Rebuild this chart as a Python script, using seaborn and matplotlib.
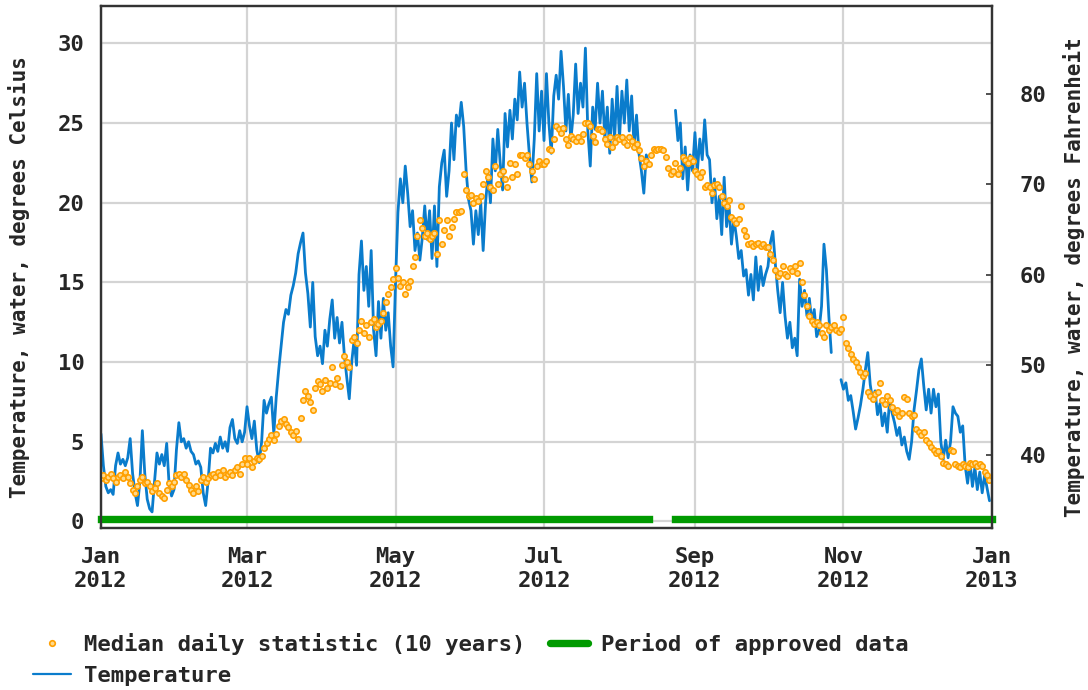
import matplotlib
matplotlib.use("Agg")
import matplotlib.pyplot as plt
from matplotlib.lines import Line2D
import numpy as np
import pandas as pd
import seaborn as sns

nan = np.nan

# Daily water temperature (deg C), one list per month
temp_jan = [5.5, 3.5, 2.2, 1.8, 2.0, 1.7, 3.5, 4.3, 3.6, 3.9, 3.5, 4.0, 5.2, 3.0, 1.8, 1.0,
            2.5, 5.7, 3.0, 1.4, 0.8, 0.6, 2.5, 4.3, 3.6, 4.2, 3.5, 4.9, 2.3, 1.6, 2.0]
temp_feb = [4.5, 6.2, 5.0, 5.2, 4.6, 5.0, 4.4, 4.2, 3.6, 3.8, 3.4, 1.8, 1.0, 2.5, 4.6,
            4.3, 4.9, 4.4, 5.3, 4.6, 5.0, 4.4, 5.9, 6.4, 5.2, 4.9, 5.7, 5.0, 5.6]
temp_mar = [7.2, 6.0, 5.2, 6.3, 4.5, 3.7, 5.0, 7.6, 6.8, 7.4, 7.8, 5.5, 7.8, 9.5, 11.0, 12.5,
            13.3, 13.0, 14.2, 14.8, 15.6, 16.8, 17.5, 18.1, 15.6, 14.3, 12.2, 15.0, 11.6, 10.4, 11.0]
temp_apr = [9.9, 12.0, 11.0, 12.7, 13.9, 11.5, 12.8, 11.2, 12.5, 10.4, 9.0, 7.7, 10.0, 11.4, 9.8,
            15.5, 17.6, 14.5, 16.0, 13.5, 17.0, 12.0, 10.4, 13.8, 11.5, 14.0, 12.0, 13.1, 11.0, 9.7]
temp_may = [15.0, 19.4, 21.5, 20.0, 22.3, 20.6, 18.5, 19.5, 17.0, 18.1, 16.4, 17.8, 19.8, 17.7, 19.5,
            16.5, 19.8, 16.0, 21.0, 22.5, 23.3, 20.4, 22.0, 25.0, 22.7, 25.5, 24.8, 26.3, 24.8, 22.0, 20.2]
temp_jun = [19.5, 17.4, 19.5, 18.0, 20.0, 17.0, 20.0, 21.8, 20.0, 24.0, 22.0, 24.6, 22.5, 20.8, 25.6,
            23.5, 25.8, 24.0, 26.5, 25.2, 28.2, 26.0, 27.5, 25.0, 23.0, 21.3, 24.0, 28.1, 24.5, 27.0]
temp_jul = [23.9, 28.1, 25.0, 23.1, 26.7, 28.0, 26.5, 29.5, 27.3, 24.5, 26.8, 23.9, 25.5, 28.7, 25.6,
            27.5, 26.0, 29.7, 24.5, 22.3, 26.0, 24.6, 27.5, 25.0, 27.0, 24.0, 26.0, 23.1, 26.5, 24.0, 27.3]
temp_aug = [24.0, 27.0, 25.0, 27.7, 24.5, 26.7, 23.5, 25.5, 23.1, 22.0, 20.6, 23.0, 22.5,
            nan, nan, nan, nan, nan, nan, nan, nan, nan, nan,
            25.8, 23.9, 25.0, 21.5, 23.5, 20.8, 23.0, 22.0]
temp_sep = [24.4, 22.0, 24.0, 22.7, 25.2, 23.0, 22.7, 20.0, 21.5, 19.0, 20.4, 18.0, 21.6, 18.5, 19.8,
            17.4, 19.0, 17.9, 16.5, 17.0, 15.4, 15.8, 14.2, 15.5, 13.9, 16.6, 14.5, 16.0, 14.8, 15.5]
temp_oct = [16.0, 17.5, 18.2, 16.2, 14.5, 13.1, 15.0, 12.9, 11.5, 12.5, 10.9, 11.5, 10.4, 15.2, 13.5,
            14.5, 12.9, 14.0, 12.5, 13.3, 11.6, 12.0, 13.5, 17.4, 15.8, 12.9, 10.6, nan, nan, nan, 8.9]
temp_nov = [8.3, 8.7, 7.6, 7.9, 6.9, 5.8, 6.5, 7.3, 8.3, 9.5, 10.6, 8.6, 7.6, 8.2, 6.7,
            7.4, 6.0, 6.8, 5.6, 7.7, 6.8, 6.2, 5.4, 5.9, 4.8, 5.3, 4.4, 3.9, 5.0, 7.0]
temp_dec = [8.2, 9.5, 10.2, 8.5, 7.0, 8.3, 6.8, 8.3, 7.2, 8.0, 5.0, 3.9, 5.1, 4.0, 5.0, 7.2,
            6.8, 6.6, 5.6, 6.0, 3.5, 2.4, 3.7, 2.2, 3.4, 2.0, 3.1, 1.8, 2.9, 2.1, 1.3]

# Median daily statistic (10 years), deg C
med_jan = [2.7, 2.9, 2.6, 2.8, 3.0, 2.7, 2.5, 2.8, 2.9, 2.7, 3.1, 2.8, 2.4, 2.0, 1.8, 2.2,
           2.6, 2.8, 2.4, 2.5, 2.2, 1.9, 2.1, 2.4, 1.8, 1.6, 1.5, 2.0, 2.4, 2.2, 2.5]
med_feb = [2.9, 3.0, 2.8, 3.0, 2.6, 2.3, 2.0, 1.8, 2.2, 1.9, 2.6, 2.8, 2.5, 2.7, 2.9,
           3.0, 2.8, 3.1, 2.9, 3.2, 2.8, 3.0, 3.1, 2.9, 3.2, 3.4, 3.0, 3.6, 4.0]
med_mar = [3.6, 4.0, 3.4, 3.8, 4.0, 3.9, 4.1, 4.6, 4.9, 5.2, 5.4, 5.1, 5.5, 6.0, 6.3, 6.4,
           6.1, 5.9, 5.6, 5.4, 5.7, 5.2, 6.5, 7.6, 8.2, 7.9, 7.5, 7.0, 8.4, 8.8, 8.6]
med_apr = [8.2, 8.9, 8.4, 8.7, 9.7, 8.6, 9.0, 8.5, 9.8, 10.4, 10.0, 9.7, 11.4, 11.6, 11.2,
           12.0, 12.6, 11.8, 12.3, 11.6, 12.5, 12.7, 12.2, 12.4, 12.6, 13.1, 13.8, 14.3, 14.7, 15.2]
med_may = [15.9, 15.3, 14.8, 15.0, 14.3, 14.7, 15.1, 16.0, 16.6, 17.9, 18.9, 18.4, 17.9, 18.1, 17.7,
           17.9, 18.1, 16.8, 18.9, 17.4, 18.3, 18.9, 17.9, 18.5, 19.0, 19.4, 19.4, 19.5, 21.8, 20.8, 20.4]
med_jun = [20.5, 20.0, 20.3, 20.1, 20.4, 21.2, 22.0, 21.6, 21.0, 20.8, 22.3, 21.2, 21.8, 22.0, 21.5,
           21.0, 22.5, 21.6, 22.4, 21.8, 23.0, 23.0, 22.8, 23.0, 22.4, 22.0, 21.5, 22.3, 22.6, 22.4]
med_jul = [22.4, 22.6, 23.4, 23.3, 24.0, 24.8, 24.6, 24.4, 24.7, 24.0, 23.6, 24.2, 24.0, 23.9, 24.1,
           23.9, 24.3, 25.0, 25.0, 24.8, 24.2, 23.8, 24.6, 24.6, 24.5, 24.0, 23.7, 24.1, 23.5, 23.8, 24.1]
med_aug = [24.0, 24.1, 23.8, 23.6, 24.1, 23.9, 23.5, 23.7, 23.3, 22.8, 22.3, 22.6, 22.4, 23.0, 23.4,
           23.3, 23.4, 23.4, 23.3, 22.9, 22.2, 21.8, 22.0, 22.5, 21.8, 22.2, 22.9, 22.7, 22.5, 22.8, 22.6]
med_sep = [22.0, 21.8, 21.6, 21.9, 21.0, 21.1, 21.0, 20.6, 21.1, 21.2, 21.0, 20.4, 20.0, 19.8, 20.2,
           19.1, 18.9, 18.7, 19.0, 19.8, 18.3, 17.9, 17.4, 17.5, 17.3, 17.4, 17.5, 17.3, 17.4, 17.2]
med_oct = [17.2, 16.8, 16.4, 15.8, 15.4, 15.6, 16.0, 15.5, 15.4, 15.9, 15.7, 16.0, 15.6, 16.2, 15.0,
           14.2, 13.5, 12.9, 12.6, 12.4, 12.5, 12.3, 11.8, 11.6, 12.3, 12.0, 12.2, 12.3, 12.0, 11.9, 12.1]
med_nov = [12.8, 11.2, 10.9, 10.5, 10.2, 10.0, 9.7, 9.4, 9.1, 9.3, 8.1, 7.9, 7.7, 8.0, 8.1,
           8.7, 7.6, 7.4, 7.9, 7.6, 7.2, 6.9, 7.0, 6.6, 6.8, 7.8, 7.7, 6.8, 6.6, 6.7]
med_dec = [5.8, 5.6, 5.4, 5.6, 5.1, 4.9, 4.7, 4.5, 4.3, 4.4, 4.1, 3.7, 3.6, 3.5, 4.5, 4.4,
           3.6, 3.5, 3.4, 3.6, 3.5, 3.4, 3.7, 3.6, 3.7, 3.5, 3.6, 3.5, 3.1, 2.9, 2.6]

# Periods of approved data (start, end) and the level the bar sits at
approved_periods = [("2012-01-01", "2012-08-13"), ("2012-08-24", "2013-01-01")]
approved_level = 0.15

tick_dates = ["2012-01-01", "2012-03-01", "2012-05-01", "2012-07-01",
              "2012-09-01", "2012-11-01", "2013-01-01"]
tick_labels = ["Jan\n2012", "Mar\n2012", "May\n2012", "Jul\n2012",
               "Sep\n2012", "Nov\n2012", "Jan\n2013"]
celsius_ticks = [0, 5, 10, 15, 20, 25, 30]
fahrenheit_ticks = [40, 50, 60, 70, 80]

BLUE = "#0a7ccc"
ORANGE = "#ffa000"
ORANGE_FILL = "#ffd98a"
GREEN = "#009a00"

temperature = (temp_jan + temp_feb + temp_mar + temp_apr + temp_may + temp_jun
               + temp_jul + temp_aug + temp_sep + temp_oct + temp_nov + temp_dec)
median = (med_jan + med_feb + med_mar + med_apr + med_may + med_jun
          + med_jul + med_aug + med_sep + med_oct + med_nov + med_dec)

dates = pd.date_range("2012-01-01", "2012-12-31", freq="D")
df = pd.DataFrame({"date": dates, "temp": temperature, "median": median})
df["segment"] = df["temp"].isna().cumsum()   # break the line at data gaps
line_df = df.dropna(subset=["temp"])

sns.set_style("white")
plt.rcParams["font.family"] = ["DejaVu Sans Mono"]
plt.rcParams["font.weight"] = "bold"
plt.rcParams["font.size"] = 16

fig = plt.figure(figsize=(10.88, 6.9), dpi=100)
ax = fig.add_axes([0.0928, 0.2352, 0.8189, 0.7565])

sns.lineplot(data=line_df, x="date", y="temp", units="segment", estimator=None,
             color=BLUE, linewidth=2.0, ax=ax, legend=False, zorder=2)
sns.scatterplot(data=df, x="date", y="median", marker="o", s=15,
                color=ORANGE_FILL, edgecolor=ORANGE, linewidth=1.2, ax=ax,
                legend=False, zorder=3)

for start, end in approved_periods:
    ax.plot([pd.Timestamp(start), pd.Timestamp(end)], [approved_level, approved_level],
            color=GREEN, linewidth=5.3, solid_capstyle="projecting", clip_on=False, zorder=4)

ax.set_xlim(pd.Timestamp("2012-01-01"), pd.Timestamp("2013-01-01"))
ax.set_ylim(-0.39, 32.36)
ax.set_xticks([pd.Timestamp(d) for d in tick_dates])
ax.set_xticklabels(tick_labels, linespacing=1.25)
ax.set_yticks(celsius_ticks)
ax.grid(True, color="#d4d4d4", linewidth=1.6)
ax.set_axisbelow(True)
ax.tick_params(axis="both", length=0, labelsize=16)
ax.tick_params(axis="x", pad=14)
ax.tick_params(axis="y", pad=12)
ax.set_xlabel("")
ax.set_ylabel("Temperature, water, degrees Celsius", fontsize=15, fontweight="bold")
ax.yaxis.set_label_coords(-0.080, 0.48)
for side in ax.spines.values():
    side.set_color("#333333")
    side.set_linewidth(1.6)

ax2 = ax.twinx()
ax2.set_ylim(31.98, 89.8)
ax2.set_yticks(fahrenheit_ticks)
ax2.tick_params(axis="y", direction="in", length=4, width=1.2, color="#333333",
                labelsize=16, pad=20)
ax2.set_ylabel("Temperature, water, degrees Fahrenheit", fontsize=15, fontweight="bold")
ax2.yaxis.set_label_coords(1.080, 0.48)
ax2.grid(False)
for side in ax2.spines.values():
    side.set_color("#333333")
    side.set_linewidth(1.6)

handles = [
    Line2D([], [], marker="o", linestyle="none", markersize=4,
           markerfacecolor=ORANGE_FILL, markeredgecolor=ORANGE, markeredgewidth=1.2),
    Line2D([], [], color=BLUE, linewidth=1.6),
    Line2D([], [], color=GREEN, linewidth=5.3),
]
labels = ["Median daily statistic (10 years)", "Temperature", "Period of approved data"]
fig.legend(handles, labels, ncol=2, loc="upper left",
           bbox_to_anchor=(22 / 1088, 1 - 622 / 690), frameon=False,
           fontsize=16, handlelength=1.7, handletextpad=0.6,
           columnspacing=1.1, labelspacing=0.5, borderpad=0)

fig.savefig("out.png", dpi=100)
plt.close(fig)
